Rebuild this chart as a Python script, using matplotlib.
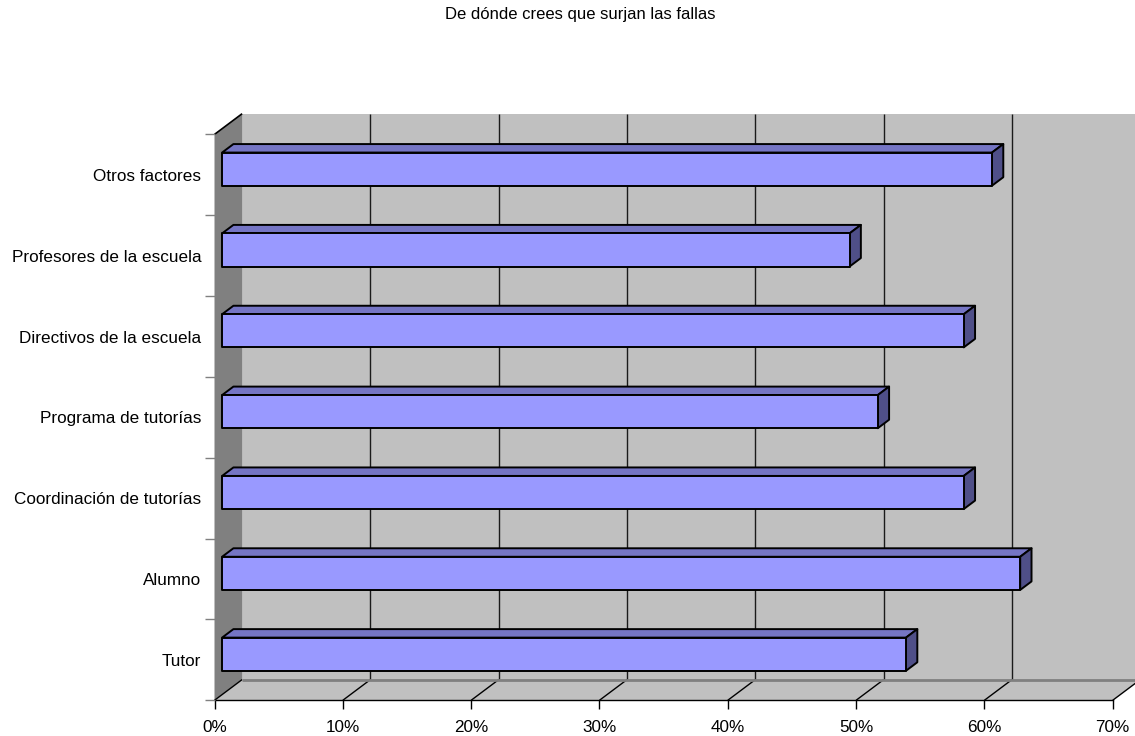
import numpy as np
import matplotlib
matplotlib.use("Agg")
import matplotlib.pyplot as plt
from matplotlib.patches import Polygon
from matplotlib.ticker import FuncFormatter

# Survey results: share of answers per source of failure
categories = ["Tutor", "Alumno", "Coordinación de tutorías", "Programa de tutorías",
              "Directivos de la escuela", "Profesores de la escuela", "Otros factores"]
values = [53.3, 62.2, 57.8, 51.1, 57.8, 48.9, 60.0]
x_ticks = [0, 10, 20, 30, 40, 50, 60, 70]
title = "De dónde crees que surjan las fallas"

W, H, DPI = 1135, 736, 100
plt.rcParams["font.family"] = ["Liberation Sans", "DejaVu Sans"]
FS = 12.3

fig = plt.figure(figsize=(W / DPI, H / DPI), dpi=DPI)
fig.patch.set_facecolor("white")

# front plane of the oblique box, in figure pixels
left_px, right_px = 214.5, 1112.7
bottom_px, top_px = 736 - 700.3, 736 - 134.4
ax = fig.add_axes([left_px / W, bottom_px / H, (right_px - left_px) / W, (top_px - bottom_px) / H])
ax.set_xlim(0, x_ticks[-1])
ax.set_ylim(0, len(categories))
ax.patch.set_visible(False)

# depth direction of the oblique projection (display pixels for depth 1)
DEPTH = np.array([27.6, 20.7])


def proj(x, y, d):
    """Map a point (value, category position, depth) to data coords of ax."""
    disp = ax.transData.transform((x, y)) + d * DEPTH
    return ax.transData.inverted().transform(disp)


def face(pts, **kw):
    poly = Polygon([proj(*p) for p in pts], closed=True, clip_on=False, **kw)
    ax.add_patch(poly)
    return poly


def line(p0, p1, **kw):
    a, b = proj(*p0), proj(*p1)
    ax.plot([a[0], b[0]], [a[1], b[1]], clip_on=False, solid_capstyle="butt", **kw)


xmax = x_ticks[-1]
ny = len(categories)

# walls and floor
face([(0, 0, 1), (xmax, 0, 1), (xmax, ny, 1), (0, ny, 1)], facecolor="#C0C0C0", edgecolor="none", zorder=0.5)
face([(0, 0, 0), (0, ny, 0), (0, ny, 1), (0, 0, 1)], facecolor="#808080", edgecolor="none", zorder=0.6)
face([(0, 0, 0), (xmax, 0, 0), (xmax, 0, 1), (0, 0, 1)], facecolor="#C0C0C0", edgecolor="none", zorder=0.6)

# gridlines on the back wall and floor
for t in x_ticks[1:]:
    line((t, 0, 1), (t, ny, 1), color="#1a1a1a", lw=1.0, zorder=0.8)
for t in x_ticks:
    line((t, 0, 0), (t, 0, 1), color="black", lw=1.0, zorder=0.8)
line((0, 0, 1), (xmax, 0, 1), color="#808080", lw=2.0, zorder=0.8)
line((0, ny, 0), (0, ny, 1), color="black", lw=1.2, zorder=0.9)

# 3D bars
d1, d2 = 0.275, 0.685
h = 0.205
for i, v in enumerate(values):
    y0, y1 = i + 0.5 - h, i + 0.5 + h
    kw = dict(edgecolor="black", lw=1.4, joinstyle="round", zorder=3)
    face([(0, y1, d1), (v, y1, d1), (v, y1, d2), (0, y1, d2)], facecolor="#7575C4", **kw)
    face([(v, y0, d1), (v, y0, d2), (v, y1, d2), (v, y1, d1)], facecolor="#4F4F88", **kw)
    face([(0, y0, d1), (v, y0, d1), (v, y1, d1), (0, y1, d1)], facecolor="#9999FF", **kw)

# axes decoration
for s in ["top", "right", "left"]:
    ax.spines[s].set_visible(False)
ax.spines["bottom"].set_color("black")
ax.spines["bottom"].set_linewidth(1.0)
ax.spines["bottom"].set_zorder(1)

ax.set_xticks(x_ticks)
ax.xaxis.set_major_formatter(FuncFormatter(lambda v, _: f"{v:.0f}%"))
ax.tick_params(axis="x", direction="out", length=6.8, width=1.0, color="black",
               labelsize=FS, pad=7.5)

ax.set_yticks(range(ny + 1))
ax.set_yticklabels([])
ax.tick_params(axis="y", which="major", direction="out", length=7.4, width=1.0, color="#808080")
ax.set_yticks(np.arange(ny) + 0.5, minor=True)
ax.set_yticklabels(categories, minor=True)
ax.tick_params(axis="y", which="minor", length=0, pad=9.5, labelsize=FS)

fig.text(580 / W, 1 - 15 / H, title, ha="center", va="center", fontsize=12.0)

fig.savefig("out.png", dpi=DPI)
